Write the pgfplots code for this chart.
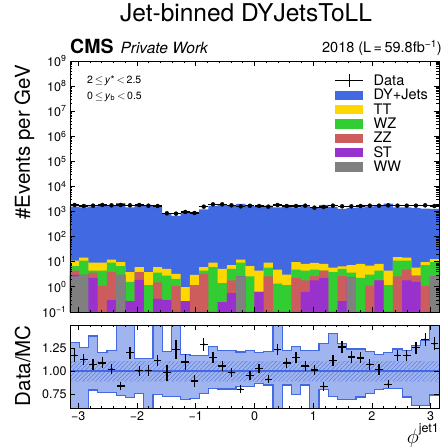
\documentclass[border=0pt]{standalone}
\usepackage{fontspec}
\setmainfont{TeX Gyre Heros}
\usepackage{pgfplots}
\pgfplotsset{compat=1.18}
\usepackage{pgfplotstable}
\usepgfplotslibrary{fillbetween}
\usetikzlibrary{patterns.meta}

\definecolor{dycol}{HTML}{4169E1}
\definecolor{ttcol}{HTML}{FFD700}
\definecolor{wzcol}{HTML}{32CD32}
\definecolor{zzcol}{HTML}{CD5C5C}
\definecolor{stcol}{HTML}{9932CC}
\definecolor{wwcol}{HTML}{808080}
\definecolor{hatchcol}{RGB}{95,125,215}

% bin left edges, cumulative stack tops (WW, +ST, +ZZ, +WZ, +TT, +DY), ratio band
\pgfplotstableread{
lo c1 c2 c3 c4 c5 c6 up dn
-3.14159 2.6 3.0 4.4 6.8 11.1 1565 1.31 0.3
-2.98451 3.0 3.0 3.0 11.1 14.6 1485 1.26 0.3
-2.82743 0.001 2.3 3.7 4.4 9.2 1602 1.38 0.796
-2.67035 0.001 0.001 1.09 4.4 9.2 1683 1.20 0.77
-2.51327 0.001 0.30 3.9 9.2 12.2 1741 1.22 0.77
-2.35619 3.0 3.0 3.0 6.8 9.8 2185 2.0 0.736
-2.19911 0.001 0.27 0.27 1.6 3.9 1482 2.0 0.714
-2.04204 0.001 1.9 3.9 3.9 6.2 1826 1.14 0.76
-1.88496 0.001 0.001 0.001 1.19 3.9 1710 1.14 0.3
-1.72788 0.001 0.33 1.5 3.7 6.2 1500 2.0 0.75
-1.57080 0.001 0.30 0.30 2.8 5.2 869 1.21 0.725
-1.41372 0.001 0.001 1.09 2.1 3.3 672 2.0 0.725
-1.25664 0.001 0.27 0.27 0.27 0.99 876 1.18 0.69
-1.09956 0.001 0.001 1.19 1.19 3.0 985 1.17 0.707
-0.94248 0.001 0.001 3.3 4.4 6.2 1221 1.17 0.76
-0.78540 0.001 0.001 0.001 6.2 9.2 1696 1.27 0.814
-0.62832 0.001 0.25 0.25 1.4 5.2 1850 1.225 0.807
-0.47124 0.001 0.57 1.8 5.2 7.4 1811 1.225 0.807
-0.31416 2.6 2.6 2.6 9.2 12.2 2015 1.207 0.83
-0.15708 0.001 0.001 0.001 2.6 6.8 1789 1.22 0.83
0.00000 0.001 0.63 0.63 0.63 4.4 1624 1.20 0.868
0.15708 0.001 0.001 2.6 5.8 9.2 1728 1.21 0.85
0.31416 0.001 0.001 0.001 1.35 4.9 1488 2.0 0.3
0.47124 0.001 0.001 0.001 1.19 3.1 1534 1.22 0.85
0.62832 0.001 0.001 2.3 4.9 9.8 1458 1.27 0.743
0.78540 0.001 0.63 1.8 4.4 8.2 1634 1.225 0.85
0.94248 0.001 1.8 2.7 4.9 9.0 1419 1.225 0.3
1.09956 0.001 2.3 4.4 4.4 8.2 1832 1.30 0.80
1.25664 0.001 0.001 0.001 3.9 5.8 1546 1.41 0.725
1.41372 0.001 0.27 2.7 5.2 6.6 1285 1.30 0.69
1.57080 2.4 2.4 2.4 3.7 7.4 1405 1.24 0.69
1.72788 0.001 0.001 0.001 2.3 8.2 1462 1.24 0.72
1.88496 0.001 0.001 1.12 3.1 7.0 1608 1.21 0.76
2.04204 0.001 1.8 1.8 4.4 8.2 1692 1.18 0.80
2.19911 0.001 0.001 0.001 1.19 4.4 2075 1.20 0.814
2.35619 0.001 0.001 2.6 11.1 15.5 1471 1.24 0.814
2.51327 0.001 1.8 4.9 11.1 14.6 1471 1.225 0.72
2.67035 0.001 1.6 2.8 2.8 5.8 1373 1.28 0.63
2.82743 0.001 0.001 1.09 7.4 9.8 1324 1.33 0.63
2.98451 2.6 2.6 2.6 9.8 12.9 1289 2.0 0.74
3.14159 2.6 2.6 2.6 9.8 12.9 1289 2.0 0.74
}\edges

% bin centres, data, data/MC and its error
\pgfplotstableread{
x data ratio rerr
-3.06305 1833 1.171 0.068
-2.90597 1671 1.125 0.06
-2.74889 1722 1.075 0.06
-2.59181 1833 1.089 0.06
-2.43473 1778 1.021 0.055
-2.27765 1833 0.839 0.045
-2.12058 1778 1.20 0.065
-1.96350 1833 1.004 0.055
-1.80642 1722 1.007 0.055
-1.64934 1671 1.114 0.06
-1.49226 853 0.982 0.085
-1.33518 828 1.232 0.10
-1.17810 964 1.10 0.085
-1.02102 880 0.893 0.065
-0.86394 1574 1.289 0.066
-0.70686 1950 1.15 0.06
-0.54978 1950 1.054 0.055
-0.39270 1778 0.982 0.05
-0.23562 1620 0.804 0.04
-0.07854 1700 0.95 0.05
0.07854 1671 1.029 0.05
0.23562 1574 0.911 0.045
0.39270 1833 1.232 0.06
0.54978 1671 1.089 0.055
0.70686 1671 1.146 0.06
0.86394 1722 1.054 0.055
1.02102 1435 1.011 0.055
1.17810 1524 0.832 0.045
1.33518 1722 1.114 0.06
1.49226 1621 1.261 0.07
1.64934 1621 1.154 0.065
1.80642 1671 1.143 0.06
1.96350 1722 1.071 0.055
2.12058 1722 1.018 0.055
2.27765 1778 0.857 0.045
2.43473 1722 1.171 0.06
2.59181 1722 1.171 0.06
2.74889 1722 1.254 0.065
2.90597 1778 1.343 0.07
3.06305 1671 1.296 0.07
}\points

\pgfplotsset{
  hep/.style={scale only axis, width=369bp, xmin=-3.14159, xmax=3.14159,
    axis on top, clip mode=individual, tick align=inside, tick pos=both,
    major tick length=5bp, minor tick length=2.5bp,
    tick style={black, line width=0.8bp},
    axis line style={line width=0.9bp},
    xtick={-3,...,3}, minor x tick num=4,
    tick label style={font=\fontsize{12.5bp}{13bp}\selectfont}},
  patch/.style={ybar interval, fill=#1, draw=none,
    legend image code/.code={\fill[#1] (0bp,-4.7bp) rectangle (28bp,4.7bp);}},
}

\begin{document}
\begin{tikzpicture}

\begin{axis}[hep, name=main, height=251bp,
  ymode=log, log origin y=infty, ymin=0.1, ymax=1e9,
  ytick={1e-1,1,1e1,1e2,1e3,1e4,1e5,1e6,1e7,1e8,1e9},
  yticklabels={10\textsuperscript{−1},10\textsuperscript{0},10\textsuperscript{1},10\textsuperscript{2},10\textsuperscript{3},10\textsuperscript{4},10\textsuperscript{5},10\textsuperscript{6},10\textsuperscript{7},10\textsuperscript{8},10\textsuperscript{9}},
  xticklabels={},
  legend cell align=left,
  legend style={draw=none, fill=none, at={(0.9702,0.951)}, anchor=north east,
    inner sep=0pt, column sep=10.7bp, row sep=0.8bp,
    font=\fontsize{14.5bp}{15bp}\selectfont,
    nodes={inner sep=0pt, text height=11.4bp, text depth=2.1bp}},
]
\addlegendimage{legend image code/.code={\draw[black, line width=1.3bp] (8bp,0bp)--(21bp,0bp) (14.5bp,-6.5bp)--(14.5bp,6.5bp); \path (0bp,0bp)--(28bp,0bp);}}
\addlegendentry{Data}
\addplot[patch=dycol] table[x=lo, y=c6] {\edges};
\addlegendentry{DY+Jets}
\addplot[patch=ttcol] table[x=lo, y=c5] {\edges};
\addlegendentry{TT}
\addplot[patch=wzcol] table[x=lo, y=c4] {\edges};
\addlegendentry{WZ}
\addplot[patch=zzcol] table[x=lo, y=c3] {\edges};
\addlegendentry{ZZ}
\addplot[patch=stcol] table[x=lo, y=c2] {\edges};
\addlegendentry{ST}
\addplot[patch=wwcol] table[x=lo, y=c1] {\edges};
\addlegendentry{WW}
\addplot[forget plot, black, only marks, mark=*, mark size=2bp,
  error bars/.cd, x dir=both, x fixed=0.0785, error mark=none,
  error bar style={line width=1.2bp}] table[x=x, y=data] {\points};

\node[anchor=base west, inner sep=0, font=\fontsize{10.5bp}{11bp}\selectfont] at (axis description cs:0.046,0.912) {2\,$\leq$\,\textit{y}*\,$<$\,2.5};
\node[anchor=base west, inner sep=0, font=\fontsize{10.5bp}{11bp}\selectfont] at (axis description cs:0.046,0.848) {0\,$\leq$\,\textit{y}\textsubscript{b}\,$<$\,0.5};
\node[rotate=90, anchor=base east, inner sep=0, font=\fontsize{20.5bp}{21bp}\selectfont] at (axis description cs:-0.1084,0.984) {\#Events per GeV};
\end{axis}

\begin{axis}[hep, at={(0bp,-13bp)}, anchor=north west, height=83bp,
  ymin=0.6, ymax=1.5, ytick={0.75,1,1.25}, yticklabels={0.75,1.00,1.25},
  xticklabels={−3,−2,−1,0,1,2,3}]
\addplot[name path=bu, draw=none, const plot mark left] table[x=lo, y=up] {\edges};
\addplot[name path=bd, draw=none, const plot mark left] table[x=lo, y=dn] {\edges};
\addplot[fill=dycol!50, draw=none] fill between[of=bu and bd];
\addplot[dycol, line width=1.2bp, const plot mark left] table[x=lo, y=up] {\edges};
\addplot[dycol, line width=1.2bp, const plot mark left] table[x=lo, y=dn] {\edges};
\addplot[name path=hu, draw=none] coordinates {(-3.14159,1.107) (3.14159,1.107)};
\addplot[name path=hd, draw=none] coordinates {(-3.14159,0.893) (3.14159,0.893)};
\addplot[draw=none, pattern={Lines[angle=45,distance=3bp,line width=0.5bp]}, pattern color=hatchcol] fill between[of=hu and hd];
\addplot[dycol!60, dashed, line width=0.8bp] coordinates {(-3.14159,1.107) (3.14159,1.107)};
\addplot[dycol!60, dashed, line width=0.8bp] coordinates {(-3.14159,0.893) (3.14159,0.893)};
\addplot[dycol, line width=1.3bp] coordinates {(-3.14159,1) (3.14159,1)};
\addplot[black, only marks, mark=*, mark size=1bp,
  error bars/.cd, x dir=both, x fixed=0.065, y dir=both, y explicit, error mark=none,
  error bar style={line width=1.3bp}] table[x=x, y=ratio, y error=rerr] {\points};

\node[rotate=90, anchor=base east, inner sep=0, font=\fontsize{20.5bp}{21bp}\selectfont] at (axis description cs:-0.1084,1) {Data/MC};
\node[anchor=base east, inner sep=0] at (axis description cs:1,-0.431) {{\fontsize{20bp}{21bp}\selectfont$\phi$}\raisebox{11bp}{\fontsize{12.5bp}{13bp}\selectfont jet1}};
\end{axis}

\node[anchor=base, inner sep=0, font=\fontsize{24.5bp}{26bp}\selectfont] at (176bp,290.3bp) {Jet-binned DYJetsToLL};
\node[anchor=base west, inner sep=0] at (0bp,258bp) {{\fontsize{19.5bp}{20bp}\selectfont\bfseries CMS}\hspace{7bp}{\fontsize{15.5bp}{16bp}\selectfont\itshape Private Work}};
\node[anchor=base east, inner sep=0, font=\fontsize{14.5bp}{15bp}\selectfont] at (372bp,259bp) {2018 (L\,=\,59.8fb\textsuperscript{−1})};

\pgfresetboundingbox
\useasboundingbox (-70bp,-135bp) rectangle (374bp,312bp);
\end{tikzpicture}
\end{document}
